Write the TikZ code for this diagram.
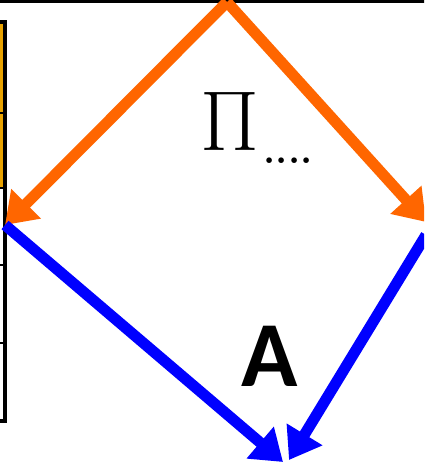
\RequirePackage{fix-cm}
\documentclass[tikz,border=0pt]{standalone}
\usepackage{fontspec}
\newfontfamily\lblfont{Carlito}
\usepackage{tikz}
\usetikzlibrary{arrows.meta, positioning}
\definecolor{arrorange}{HTML}{FF6600}
\definecolor{arrblue}{HTML}{0000FF}
\definecolor{cellyellow}{HTML}{E8A200}
\tikzset{
  edgeline/.style ={line width=4pt, black},
  orng/.style     ={-{Triangle[length=30pt, width=40pt]}, line width=11pt, arrorange},   % down from the top
  blu/.style      ={-{Triangle[length=30pt, width=40pt]}, line width=11pt, arrblue},     % down to A
  pilbl/.style    ={inner sep=0pt, font=\fontsize{85}{85}\selectfont},
  dotlbl/.style   ={inner sep=0pt, font=\bfseries\fontsize{39}{39}\selectfont},
  albl/.style     ={inner sep=0pt, font=\lblfont\bfseries\fontsize{93}{93}\selectfont},
}
\begin{document}
\begin{tikzpicture}[x=1pt, y=-1pt]
  \useasboundingbox (0,0) rectangle (424,462);
  \clip (0,0) rectangle (424,462);
  % frame bits cut off by the crop
  \fill[cellyellow] (-10,22) rectangle (5,188);
  \draw[edgeline] (-10,1) -- (430,1);
  \draw[edgeline] (-10,22) -- (5,22) -- (5,421) -- (-10,421);
  \foreach \yy in {113,188,265,343}
    \draw[line width=2.5pt] (-10,\yy) -- (7,\yy);
  % corners of the square
  \coordinate (top) at (227,2);
  \coordinate (lft) at (5,225);
  \coordinate (rgt) at (426,222);
  \coordinate (rgtb) at (426,235);
  \coordinate (bot) at (283,462);
  \coordinate (botr) at (289,460);
  \draw[orng] (top) -- (lft);
  \draw[orng] (top) -- (rgt);
  \draw[blu] (lft) -- (bot);
  \draw[blu] (rgtb) -- (botr);
  \node[pilbl] (pi) at (230,121) {$\Pi$};
  \node[dotlbl, anchor=base] (sub) at (288,164) {....};
  \node[albl] (a) at (270,356) {A};
\end{tikzpicture}
\end{document}
